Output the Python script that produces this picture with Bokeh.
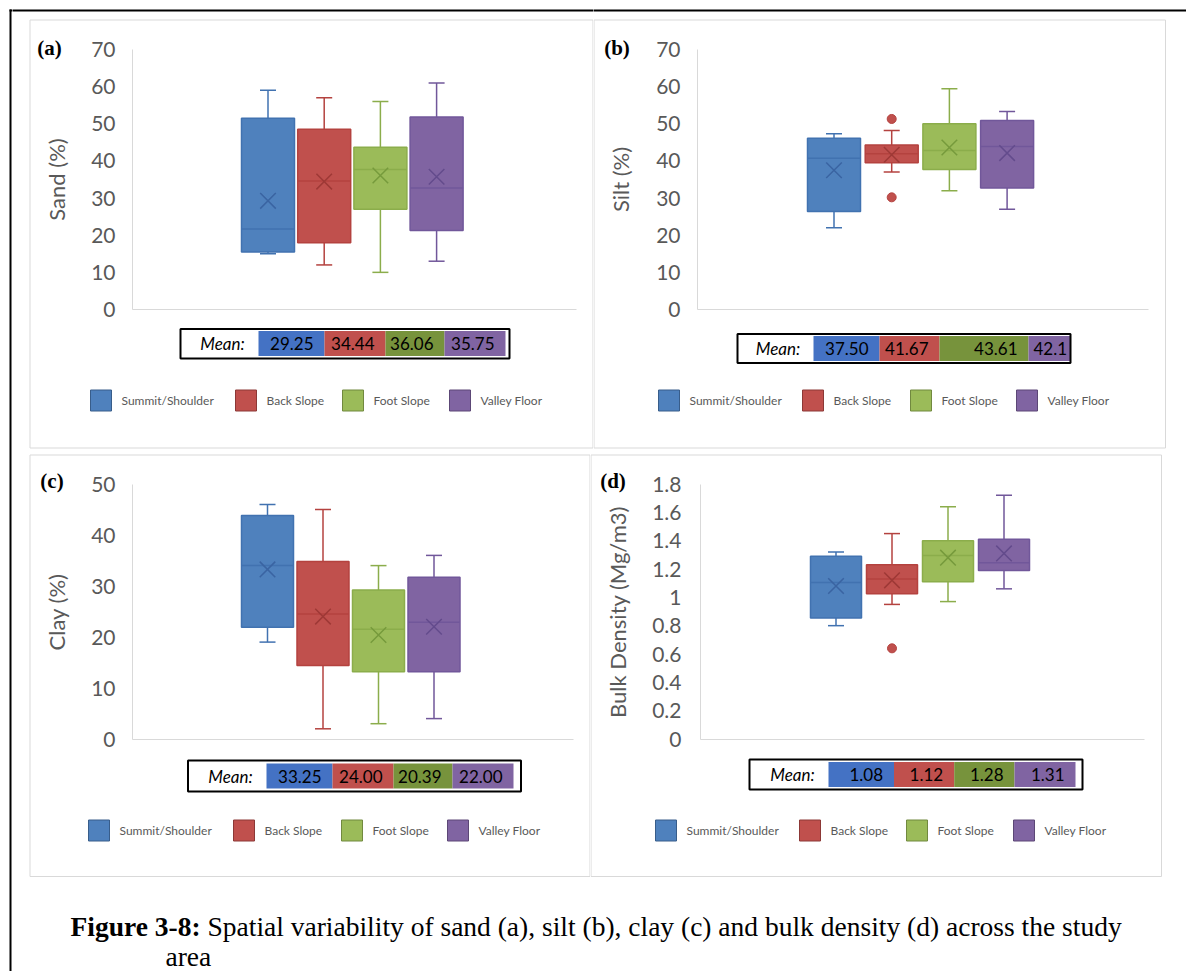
from bokeh.plotting import figure
from bokeh.models import Range1d, LinearAxis, FixedTicker, NumeralTickFormatter, ColumnDataSource
from bokeh.layouts import column, row
from bokeh.core.properties import value
from bokeh.embed import file_html
from bokeh.resources import INLINE

FONT = "Lato"
SERIF = "Liberation Serif"
GREY_TXT = "#595959"
AXIS_GREY = "#D9D9D9"

# ---------------- data ----------------
categories = ["Summit/Shoulder", "Back Slope", "Foot Slope", "Valley Floor"]

# (a) Sand (%)
sand_min = [15, 12, 10, 13]
sand_q1 = [15.5, 18, 27, 21.3]
sand_med = [21.7, 34.6, 37.7, 32.7]
sand_q3 = [51.5, 48.5, 43.7, 51.8]
sand_max = [59, 57, 56, 61]
sand_mean = [29.25, 34.44, 36.06, 35.75]
sand_out_cat = []
sand_out_val = []
sand_ticks = [0, 10, 20, 30, 40, 50, 60, 70]

# (b) Silt (%)
silt_min = [22, 37, 32, 27]
silt_q1 = [26.4, 39.5, 37.7, 32.7]
silt_med = [40.7, 41.9, 42.8, 43.9]
silt_q3 = [46.1, 44.3, 50.0, 50.9]
silt_max = [47.3, 48.2, 59.4, 53.3]
silt_mean = [37.50, 41.67, 43.61, 42.11]
silt_out_cat = [1, 1]
silt_out_val = [51.3, 30.2]
silt_ticks = [0, 10, 20, 30, 40, 50, 60, 70]

# (c) Clay (%)
clay_min = [19, 2, 3, 4]
clay_q1 = [21.9, 14.4, 13.2, 13.2]
clay_med = [34.0, 24.5, 21.5, 22.9]
clay_q3 = [43.8, 34.8, 29.2, 31.7]
clay_max = [46, 45, 34, 36]
clay_mean = [33.25, 24.00, 20.39, 22.00]
clay_out_cat = []
clay_out_val = []
clay_ticks = [0, 10, 20, 30, 40, 50]

# (d) Bulk density (Mg/m3)
bd_min = [0.80, 0.95, 0.97, 1.06]
bd_q1 = [0.855, 1.025, 1.11, 1.19]
bd_med = [1.105, 1.13, 1.295, 1.245]
bd_q3 = [1.29, 1.23, 1.40, 1.41]
bd_max = [1.32, 1.45, 1.64, 1.72]
bd_mean = [1.08, 1.12, 1.28, 1.31]
bd_out_cat = [1]
bd_out_val = [0.64]
bd_ticks = [0, 0.2, 0.4, 0.6, 0.8, 1.0, 1.2, 1.4, 1.6, 1.8]

caption_bold = "Figure 3-8:"
caption_rest = "Spatial variability of sand (a), silt (b), clay (c) and bulk density (d) across the study"
caption_line2 = "area"

# ---------------- styles ----------------
BOX_FILL = ["#4F81BD", "#C0504D", "#9BBB59", "#8064A2"]
BOX_LINE = ["#4172B0", "#B4423F", "#8BAD4B", "#71579A"]
MEAN_COL = ["#3A64A2", "#9E3936", "#769A3C", "#634B8C"]
LEG_LINE = ["#385D8A", "#8C3836", "#71893F", "#5C4776"]
CELL_FILL = ["#4472C4", "#C0504D", "#77933C", "#8064A2"]

PAGE_W, PAGE_H = 1186, 971
STRIP_W = 12

# page-pixel geometry of each panel (layout only); "black" = filled strips (l, r, t, b)
GEOM = {
    "a": dict(canvas=(STRIP_W, 0, 593 - STRIP_W, 451), c0=267.5, dx=56.2, bw=53, y0=309, k=260 / 70,
              axis_x=132, xend=576, border=(29.5, 592.5, 19.5, 447.5), tag=(49, 47),
              tbl=(180, 509, 328.5, 358), cells=[258, 324, 385, 444, 505], cell_y=(330.5, 355.5),
              mean_cx=222, leg_y=400, leg_sq=[90, 235, 342, 449], lab_so=17, title_so=18,
              black=[(STRIP_W - 1, 594, 9, 11)]),
    "b": dict(canvas=(593, 0, 593, 451), c0=833.5, dx=57.7, bw=53, y0=309, k=260 / 70,
              axis_x=697, xend=1148, border=(593.5, 1165, 19.5, 447.5), tag=(616.5, 47),
              tbl=(737, 1070, 333.5, 362.5), cells=[813, 879, 939, 1028, 1070], cell_y=(335.5, 360.5),
              mean_cx=777.5, leg_y=400, leg_sq=[658, 802, 910, 1016], lab_so=17, title_so=19,
              black=[(592, 1187, 9, 11)], clip_last=True),
    "c": dict(canvas=(STRIP_W, 451, 590 - STRIP_W, 426), c0=267, dx=55.5, bw=52, y0=738.5, k=255 / 50,
              axis_x=132, xend=573, border=(29.5, 589.5, 454.5, 876), tag=(51.5, 480),
              tbl=(187.5, 520.5, 760, 791), cells=[266, 332, 393, 452, 513], cell_y=(763, 788),
              mean_cx=230, leg_y=830, leg_sq=[88, 233, 341, 447], lab_so=17, title_so=18,
              black=[]),
    "d": dict(canvas=(590, 451, 596, 426), c0=835.5, dx=56, bw=51, y0=738.5, k=255 / 1.8,
              axis_x=700, xend=1144, border=(590.5, 1161, 454.5, 876), tag=(612.5, 480),
              tbl=(749, 1082, 759, 789), cells=[828, 893.5, 953.7, 1014, 1075], cell_y=(761.5, 786.5),
              mean_cx=792, leg_y=830, leg_sq=[655, 799, 906, 1013], lab_so=19, title_so=18,
              black=[]),
}


def blank_fig(W, H):
    f = figure(width=W, height=H, title=None, x_range=Range1d(0, W), y_range=Range1d(H, 0),
               output_backend="svg", toolbar_location=None, tools="",
               x_axis_location=None, y_axis_location=None, min_border=0,
               outline_line_color=None, background_fill_color="white", border_fill_color="white")
    f.grid.visible = False
    return f


def make_panel(g, stats, out_cat, out_val, ticks, ylabel, tag, formatter=None):
    L, T, W, H = g["canvas"]
    cx0 = g["c0"] - L
    dx = g["dx"]
    y0 = g["y0"] - T
    k = g["k"]
    p = figure(width=W, height=H, title=None,
               x_range=Range1d((0 - cx0) / dx, (W - cx0) / dx),
               y_range=Range1d((y0 - H) / k, y0 / k),
               output_backend="svg", toolbar_location=None, tools="",
               x_axis_location=None, y_axis_location=None,
               min_border=0, outline_line_color=None,
               background_fill_color="white", border_fill_color="white")
    p.grid.visible = False
    p.extra_x_ranges = {"px": Range1d(0, W)}
    p.extra_y_ranges = {"px": Range1d(H, 0)}
    PX = dict(x_range_name="px", y_range_name="px")

    def X(v):
        return v - L

    def Y(v):
        return v - T

    def xd(v):
        return (v - L - cx0) / dx

    # outer page frame strips + panel border
    for (l_, r_, t_, b_) in g["black"]:
        p.quad(left=[X(l_)], right=[X(r_)], top=[Y(t_)], bottom=[Y(b_)],
               fill_color="black", line_color=None, **PX)
    bl, br, bt, bb = g["border"]
    p.quad(left=[X(bl)], right=[X(br)], top=[Y(bt)], bottom=[Y(bb)],
           fill_color=None, line_color=AXIS_GREY, line_width=1, **PX)

    # axes
    ya = LinearAxis(fixed_location=xd(g["axis_x"]), bounds=(ticks[0], ticks[-1]),
                    ticker=FixedTicker(ticks=ticks), axis_label=ylabel,
                    axis_line_color=AXIS_GREY, axis_line_width=1,
                    major_tick_line_color=None, minor_tick_line_color=None,
                    major_tick_out=0, major_tick_in=0,
                    major_label_standoff=g["lab_so"], axis_label_standoff=g["title_so"],
                    major_label_text_font=FONT, major_label_text_font_size="21px",
                    major_label_text_color=GREY_TXT,
                    axis_label_text_font=FONT, axis_label_text_font_size="22px",
                    axis_label_text_color=GREY_TXT, axis_label_text_font_style="normal")
    if formatter is not None:
        ya.formatter = formatter
    p.add_layout(ya, "left")
    xa = LinearAxis(fixed_location=0, bounds=(xd(g["axis_x"]), xd(g["xend"])),
                    ticker=FixedTicker(ticks=[]), major_label_text_font_size="0px",
                    major_tick_line_color=None, minor_tick_line_color=None,
                    major_label_standoff=0, major_tick_out=0, major_tick_in=0,
                    axis_line_color=AXIS_GREY, axis_line_width=1)
    p.add_layout(xa, "below")

    # box plots
    mn, q1, med, q3, mx, mean = stats
    n = len(categories)
    xs = list(range(n))
    hw = g["bw"] / dx / 2
    cw = 8 / dx
    src = ColumnDataSource(dict(
        x=xs, lo=mn, q1=q1, med=med, q3=q3, hi=mx, mean=mean,
        x0=[x - hw for x in xs], x1=[x + hw for x in xs],
        c0=[x - cw for x in xs], c1=[x + cw for x in xs],
        fill=BOX_FILL, line=BOX_LINE, mcol=MEAN_COL))
    p.segment(x0="x", y0="q3", x1="x", y1="hi", line_color="line", line_width=1.5, source=src)
    p.segment(x0="x", y0="q1", x1="x", y1="lo", line_color="line", line_width=1.5, source=src)
    p.segment(x0="c0", y0="hi", x1="c1", y1="hi", line_color="line", line_width=1.5, source=src)
    p.segment(x0="c0", y0="lo", x1="c1", y1="lo", line_color="line", line_width=1.5, source=src)
    p.vbar(x="x", width=2 * hw, bottom="q1", top="q3", fill_color="fill",
           line_color="line", line_width=1.5, source=src)
    p.segment(x0="x0", y0="med", x1="x1", y1="med", line_color="line", line_width=1.5, source=src)
    p.scatter(x="x", y="mean", marker="x", size=22, line_color="mcol", line_width=1.5, source=src)
    if out_cat:
        p.scatter(x=out_cat, y=out_val, marker="circle", size=9,
                  fill_color=[BOX_FILL[c] for c in out_cat],
                  line_color=[BOX_LINE[c] for c in out_cat], line_width=1)

    # panel tag
    tx, ty = g["tag"]
    p.text(x=[X(tx)], y=[Y(ty)], text=[tag], text_font=value(SERIF),
           text_font_style=value("bold"), text_font_size=value("21px"),
           text_align=value("center"), text_baseline=value("middle"), text_color="black", **PX)

    # mean table
    tl, tr, tt, tb = g["tbl"]
    edges = g["cells"]
    ct, cb = g["cell_y"]
    p.quad(left=[X(e) for e in edges[:-1]], right=[X(e) for e in edges[1:]],
           top=[Y(ct)] * n, bottom=[Y(cb)] * n, fill_color=CELL_FILL, line_color=None, **PX)
    p.quad(left=[X(tl)], right=[X(tr)], top=[Y(tt)], bottom=[Y(tb)],
           fill_color=None, line_color="black", line_width=2, **PX)
    ymid = Y((tt + tb) / 2)
    p.text(x=[X(g["mean_cx"])], y=[ymid], text=["Mean:"], text_font=value(FONT),
           text_font_style=value("italic"), text_font_size=value("17px"),
           text_align=value("center"), text_baseline=value("middle"), text_color="black", **PX)
    labels = [f"{m:.2f}" for m in mean]
    nr = n - 1 if g.get("clip_last") else n
    p.text(x=[X(e - 11) for e in edges[1:nr + 1]], y=[ymid] * nr, text=labels[:nr],
           text_font=value(FONT), text_font_size=value("17px"),
           text_align=value("right"), text_baseline=value("middle"), text_color="black", **PX)
    if g.get("clip_last"):
        # last cell is cut by the table border in the original
        p.text(x=[X(edges[-2] + 5)], y=[ymid], text=[labels[-1][:4]],
               text_font=value(FONT), text_font_size=value("17px"),
               text_align=value("left"), text_baseline=value("middle"), text_color="black", **PX)

    # legend
    ly = g["leg_y"]
    sq = g["leg_sq"]
    p.quad(left=[X(s) for s in sq], right=[X(s + 21) for s in sq],
           top=[Y(ly - 10.5)] * n, bottom=[Y(ly + 10.5)] * n,
           fill_color=BOX_FILL, line_color=LEG_LINE, line_width=1, **PX)
    p.text(x=[X(s + 31) for s in sq], y=[Y(ly)] * n, text=categories,
           text_font=value(FONT), text_font_size=value("12px"), text_color=GREY_TXT,
           text_align=value("left"), text_baseline=value("middle"), **PX)
    return p


pa = make_panel(GEOM["a"], (sand_min, sand_q1, sand_med, sand_q3, sand_max, sand_mean),
                sand_out_cat, sand_out_val, sand_ticks, "Sand (%)", "(a)")
pb = make_panel(GEOM["b"], (silt_min, silt_q1, silt_med, silt_q3, silt_max, silt_mean),
                silt_out_cat, silt_out_val, silt_ticks, "Silt (%)", "(b)")
pc = make_panel(GEOM["c"], (clay_min, clay_q1, clay_med, clay_q3, clay_max, clay_mean),
                clay_out_cat, clay_out_val, clay_ticks, "Clay (%)", "(c)")
pd = make_panel(GEOM["d"], (bd_min, bd_q1, bd_med, bd_q3, bd_max, bd_mean),
                bd_out_cat, bd_out_val, bd_ticks, "Bulk Density (Mg/m3)", "(d)",
                formatter=NumeralTickFormatter(format="0.[0]"))

# left strip carrying the page frame's left rule
strip = blank_fig(STRIP_W, PAGE_H)
strip.quad(left=[9, 9], right=[11, STRIP_W + 1], top=[9, 9], bottom=[PAGE_H + 1, 11],
           fill_color="black", line_color=None)

# caption
CAP_T = 877
cap = blank_fig(PAGE_W - STRIP_W, PAGE_H - CAP_T)
cap.text(x=[70 - STRIP_W], y=[926 - CAP_T], text=[caption_bold], text_font=value(SERIF),
         text_font_style=value("bold"), text_font_size=value("27.5px"),
         text_baseline=value("alphabetic"), text_color="black")
cap.text(x=[207 - STRIP_W], y=[926 - CAP_T], text=[caption_rest], text_font=value(SERIF),
         text_font_size=value("27.5px"), text_baseline=value("alphabetic"), text_color="black")
cap.text(x=[165 - STRIP_W], y=[956 - CAP_T], text=[caption_line2], text_font=value(SERIF),
         text_font_size=value("27.5px"), text_baseline=value("alphabetic"), text_color="black")

right_part = column(row(pa, pb, spacing=0), row(pc, pd, spacing=0), cap, spacing=0)
layout = row(strip, right_part, spacing=0)

open("out.html", "w").write(file_html(layout, INLINE))
